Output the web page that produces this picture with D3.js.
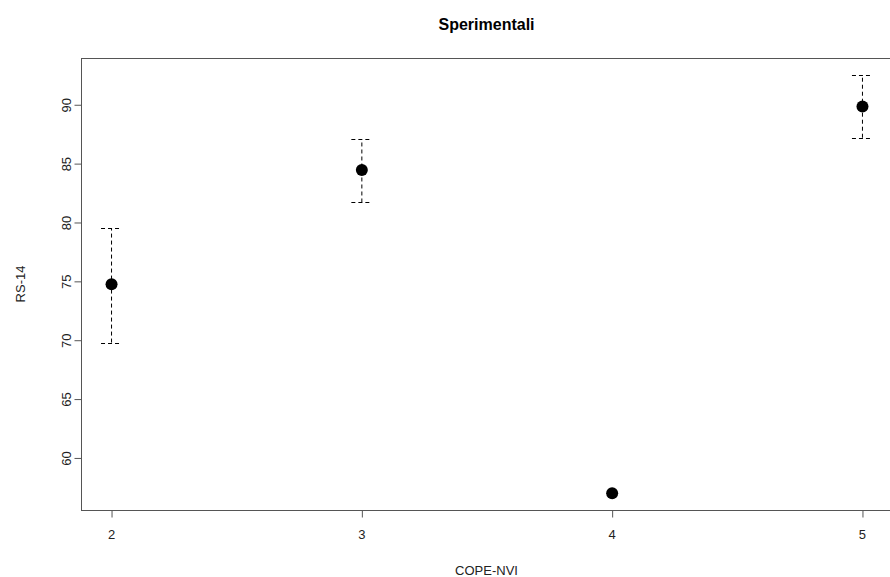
<!DOCTYPE html>
<html>
<head>
<meta charset="utf-8">
<script src="https://cdn.jsdelivr.net/npm/d3@7"></script>
<style>
  body { margin: 0; background: #fff; }
  text { font-family: "Liberation Sans", Arial, sans-serif; }
</style>
</head>
<body>
<div id="chart"></div>
<script>
// COPE-NVI levels and RS-14 means with error bounds
const copeLevels = [2, 3, 4, 5];
const rsMeans = [74.75, 84.45, 57.0, 89.85];
const rsLower = [69.8, 81.7, 57.0, 87.2];
const rsUpper = [79.5, 87.05, 57.0, 92.55];
const xTicks = [2, 3, 4, 5];
const yTicks = [60, 65, 70, 75, 80, 85, 90];

const W = 890, H = 577;
const margin = { top: 58, right: -2, bottom: 67, left: 81 };
const width = W - margin.left - margin.right;
const height = H - margin.top - margin.bottom;

const svg = d3.select("#chart")
    .append("svg")
    .attr("width", W)
    .attr("height", H);

const g = svg.append("g")
    .attr("transform", "translate(" + margin.left + "," + margin.top + ")");

// R-style 4% axis extension
const xr = [d3.min(copeLevels), d3.max(copeLevels)];
const xpad = (xr[1] - xr[0]) * 0.04;
const x = d3.scaleLinear().domain([xr[0] - xpad, xr[1] + xpad]).range([0, width]);

const yr = [d3.min(rsLower), d3.max(rsUpper)];
const ypad = (yr[1] - yr[0]) * 0.04;
const y = d3.scaleLinear().domain([yr[0] - ypad, yr[1] + ypad]).range([height, 0]);

// box
g.append("rect")
    .attr("x", 0.5).attr("y", 0.5)
    .attr("width", width).attr("height", height)
    .attr("fill", "none")
    .attr("stroke", "#555");

// x axis
const xAxis = g.append("g")
    .attr("transform", "translate(0," + (height + 0.5) + ")")
    .call(d3.axisBottom(x).tickValues(xTicks).tickSize(7).tickPadding(12).tickFormat(d3.format("d")));
xAxis.select(".domain").remove();
xAxis.selectAll("line").attr("stroke", "#555").attr("transform", "translate(0.5,0)");
xAxis.selectAll("text").attr("font-size", 13).attr("fill", "#222")
    .style("font-family", "'Liberation Sans', Arial, sans-serif");

// y axis
const yAxis = g.append("g")
    .attr("transform", "translate(0.5,0)")
    .call(d3.axisLeft(y).tickValues(yTicks).tickSize(7));
yAxis.select(".domain").remove();
yAxis.selectAll("line").attr("stroke", "#555");
yAxis.selectAll("text")
    .attr("font-size", 13).attr("fill", "#222")
    .style("font-family", "'Liberation Sans', Arial, sans-serif")
    .attr("x", null).attr("dy", null)
    .attr("text-anchor", "middle")
    .attr("transform", "translate(-11,0) rotate(-90)");

// error bars
const bars = copeLevels.map((c, i) => ({ c, lo: rsLower[i], hi: rsUpper[i] }))
    .filter(d => d.hi > d.lo);

g.selectAll(".err-v")
    .data(bars).enter().append("line")
    .attr("class", "err-v")
    .attr("x1", d => x(d.c) + 0.5).attr("x2", d => x(d.c) + 0.5)
    .attr("y1", d => y(d.lo)).attr("y2", d => y(d.hi))
    .attr("stroke", "#000").attr("stroke-dasharray", "4,3");

["lo", "hi"].forEach(k => {
    g.selectAll(".err-" + k)
        .data(bars).enter().append("line")
        .attr("class", "err-" + k)
        .attr("x1", d => x(d.c) - 10).attr("x2", d => x(d.c) + 11)
        .attr("y1", d => Math.round(y(d[k])) + 0.5).attr("y2", d => Math.round(y(d[k])) + 0.5)
        .attr("stroke", "#000").attr("stroke-dasharray", "4,3");
});

// points
g.selectAll(".pt")
    .data(copeLevels.map((c, i) => ({ c, m: rsMeans[i] })))
    .enter().append("circle")
    .attr("class", "pt")
    .attr("cx", d => x(d.c) + 0.5)
    .attr("cy", d => y(d.m))
    .attr("r", 6)
    .attr("fill", "#000");

// title and axis labels
svg.append("text")
    .attr("x", margin.left + width / 2).attr("y", 30)
    .attr("text-anchor", "middle")
    .attr("font-size", 16).attr("font-weight", "bold")
    .text("Sperimentali");

svg.append("text")
    .attr("x", margin.left + width / 2).attr("y", 575)
    .attr("text-anchor", "middle")
    .attr("font-size", 13).attr("fill", "#222")
    .text("COPE-NVI");

svg.append("text")
    .attr("transform", "translate(25," + (margin.top + height / 2) + ") rotate(-90)")
    .attr("text-anchor", "middle")
    .attr("font-size", 13).attr("fill", "#222")
    .text("RS-14");
</script>
</body>
</html>
